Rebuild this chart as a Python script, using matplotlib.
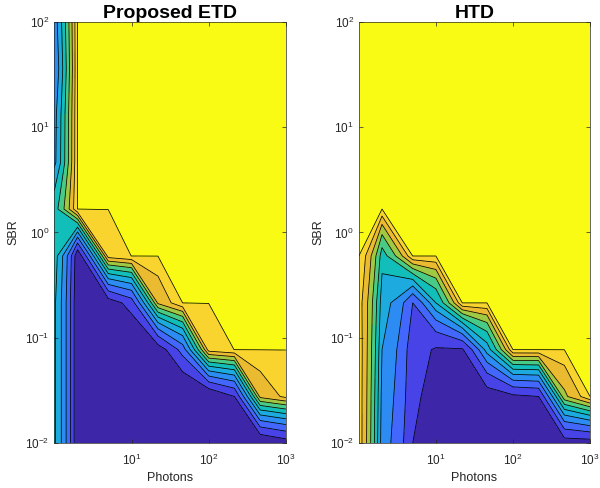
import numpy as np
import matplotlib.pyplot as plt
from matplotlib.ticker import FixedLocator, NullLocator, LogFormatterSciNotation

plt.rcParams['font.family'] = ['Liberation Sans', 'DejaVu Sans']

# grid of the simulation (photons on x, SBR on y)
photons = [1, 2, 5, 10, 22, 46, 100, 215, 464, 1000]
sbr = [0.01, 0.0278, 0.0774, 0.215, 0.599, 1.67, 4.64, 12.9, 35.9, 100]

# rows go from lowest SBR (top of list) to highest SBR
etd_z = [
    [0.52, 0.00, 0.00, 0.00, 0.00, 0.00, 0.00, 0.00, 0.00, 0.05],
    [0.52, 0.00, 0.00, 0.00, 0.00, 0.00, 0.00, 0.10, 0.83, 0.93],
    [0.52, 0.00, 0.00, 0.00, 0.05, 0.25, 0.95, 1.00, 1.00, 1.00],
    [0.52, 0.00, 0.05, 0.15, 0.82, 1.00, 1.00, 1.00, 1.00, 1.00],
    [0.55, 0.02, 0.95, 1.00, 1.00, 1.00, 1.00, 1.00, 1.00, 1.00],
    [0.55, 1.00, 1.00, 1.00, 1.00, 1.00, 1.00, 1.00, 1.00, 1.00],
    [0.37, 1.00, 1.00, 1.00, 1.00, 1.00, 1.00, 1.00, 1.00, 1.00],
    [0.36, 1.00, 1.00, 1.00, 1.00, 1.00, 1.00, 1.00, 1.00, 1.00],
    [0.30, 1.00, 1.00, 1.00, 1.00, 1.00, 1.00, 1.00, 1.00, 1.00],
    [0.34, 1.00, 1.00, 1.00, 1.00, 1.00, 1.00, 1.00, 1.00, 1.00],
]

htd_z = [
    [0.96, 0.35, 0.10, 0.00, 0.00, 0.00, 0.00, 0.00, 0.05, 0.05],
    [0.96, 0.37, 0.12, 0.05, 0.00, 0.05, 0.08, 0.10, 0.78, 1.00],
    [0.96, 0.40, 0.13, 0.09, 0.09, 0.45, 1.00, 1.00, 1.00, 1.00],
    [0.95, 0.45, 0.20, 0.50, 1.00, 1.00, 1.00, 1.00, 1.00, 1.00],
    [1.00, 0.55, 1.00, 1.00, 1.00, 1.00, 1.00, 1.00, 1.00, 1.00],
    [1.00, 1.00, 1.00, 1.00, 1.00, 1.00, 1.00, 1.00, 1.00, 1.00],
    [1.00, 1.00, 1.00, 1.00, 1.00, 1.00, 1.00, 1.00, 1.00, 1.00],
    [1.00, 1.00, 1.00, 1.00, 1.00, 1.00, 1.00, 1.00, 1.00, 1.00],
    [1.00, 1.00, 1.00, 1.00, 1.00, 1.00, 1.00, 1.00, 1.00, 1.00],
    [1.00, 1.00, 1.00, 1.00, 1.00, 1.00, 1.00, 1.00, 1.00, 1.00],
]

titles = ['Proposed ETD', 'HTD']

# contour levels 0:0.1:1 (top one just under 1 so the plateau gets its own band)
line_levels = [0.1, 0.2, 0.3, 0.4, 0.5, 0.6, 0.7, 0.8, 0.9, 0.999]
fill_levels = [-0.01] + line_levels + [1.01]

# parula sampled at 0, 0.1, ..., 1
band_colors = [
    (0.2422, 0.1504, 0.6603), (0.2789, 0.2626, 0.9060), (0.2641, 0.4031, 0.9934),
    (0.1766, 0.5478, 0.9536), (0.1081, 0.6668, 0.8730), (0.0699, 0.7456, 0.7257),
    (0.2819, 0.7962, 0.5264), (0.6229, 0.7868, 0.2574), (0.9178, 0.7313, 0.1904),
    (0.9818, 0.8311, 0.1802), (0.9769, 0.9839, 0.0805),
]

fig = plt.figure(figsize=(6, 4.88), dpi=100)
ax1 = fig.add_axes([0.0905, 0.0916, 0.386, 0.864])
ax2 = fig.add_axes([0.598, 0.0916, 0.3855, 0.864])

for ax, z, title in zip([ax1, ax2], [etd_z, htd_z], titles):
    ax.set_xscale('log')
    ax.set_yscale('log')
    ax.contourf(photons, sbr, np.array(z), levels=fill_levels, colors=band_colors)
    ax.contour(photons, sbr, np.array(z), levels=line_levels, colors='k', linewidths=0.55)
    ax.set_xlim(1, 1000)
    ax.set_ylim(0.01, 100)
    ax.xaxis.set_major_locator(FixedLocator([10, 100, 1000]))
    ax.yaxis.set_major_locator(FixedLocator([0.01, 0.1, 1, 10, 100]))
    ax.xaxis.set_major_formatter(LogFormatterSciNotation())
    ax.yaxis.set_major_formatter(LogFormatterSciNotation())
    ax.xaxis.set_minor_locator(NullLocator())
    ax.yaxis.set_minor_locator(NullLocator())
    ax.tick_params(direction='in', top=True, right=True, length=3, width=0.5,
                   colors='0.15', labelsize=8.5)
    ax.tick_params(axis='x', pad=7)
    for s in ax.spines.values():
        s.set_linewidth(0.5)
        s.set_color('0.15')
    ax.set_title(title, fontweight='bold', fontsize=14, pad=3)
    ax.set_xlabel('Photons', fontsize=9, color='0.15', labelpad=3)
    ax.set_ylabel('SBR', fontsize=9, color='0.15', labelpad=4)

fig.savefig('out.png', dpi=100)
